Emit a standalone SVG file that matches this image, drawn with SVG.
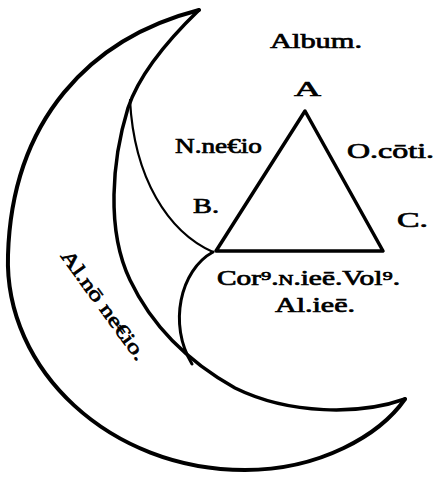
<svg xmlns="http://www.w3.org/2000/svg" width="436" height="477" viewBox="0 0 436 477">
<style>
.ln{fill:none;stroke:#000;stroke-linecap:round;stroke-linejoin:round}
.t{font-family:"Liberation Serif","Times New Roman",serif;fill:#000;stroke:#000;stroke-width:0.7}
</style>
<rect width="436" height="477" fill="#fff"/>
<g id="outer-crescent">
<path class="ln" stroke-width="4" d="M199,10 C90,38 12,120 8,255 C4,370 110,470 245,470 C320,470 380,435 405,399"/>
<path class="ln" stroke-width="3.5" d="M199,10 C170,38 140,72 128,108 C112,160 106,230 130,280 C150,322 185,360 235,388 C290,415 360,415 405,399"/>
</g>
<g id="inner-crescent">
<path class="ln" stroke-width="2.2" d="M130,100 C134,178 168,232 213,252"/>
<path class="ln" stroke-width="3" d="M213,252 C180,270 168,325 192,364"/>
</g>
<g id="triangle">
<path class="ln" stroke-width="3.5" d="M305,111 L383,251 L216,251 Z"/>
</g>
<g id="labels">
<text class="t" x="270" y="48" font-size="22" textLength="92" lengthAdjust="spacingAndGlyphs">Album.</text>
<text class="t" x="294" y="96" font-size="22" textLength="27" lengthAdjust="spacingAndGlyphs">A</text>
<text class="t" x="175" y="153" font-size="21" textLength="87" lengthAdjust="spacingAndGlyphs">N.ne€io</text>
<text class="t" x="347" y="158" font-size="21" textLength="87" lengthAdjust="spacingAndGlyphs">O.cōti.</text>
<text class="t" x="193" y="213" font-size="22" textLength="26" lengthAdjust="spacingAndGlyphs">B.</text>
<text class="t" x="397" y="227" font-size="22" textLength="31" lengthAdjust="spacingAndGlyphs">C.</text>
<text class="t" x="217" y="285" font-size="20" textLength="183" lengthAdjust="spacingAndGlyphs">Cor⁹.<tspan font-size="14">N</tspan>.ieē.Vol⁹.</text>
<text class="t" x="275" y="312" font-size="20" textLength="80" lengthAdjust="spacingAndGlyphs">Al.ieē.</text>
<text class="t" transform="translate(60,256) rotate(54)" font-size="20" textLength="131" lengthAdjust="spacingAndGlyphs">Al.nō ne€io.</text>
</g>
</svg>
